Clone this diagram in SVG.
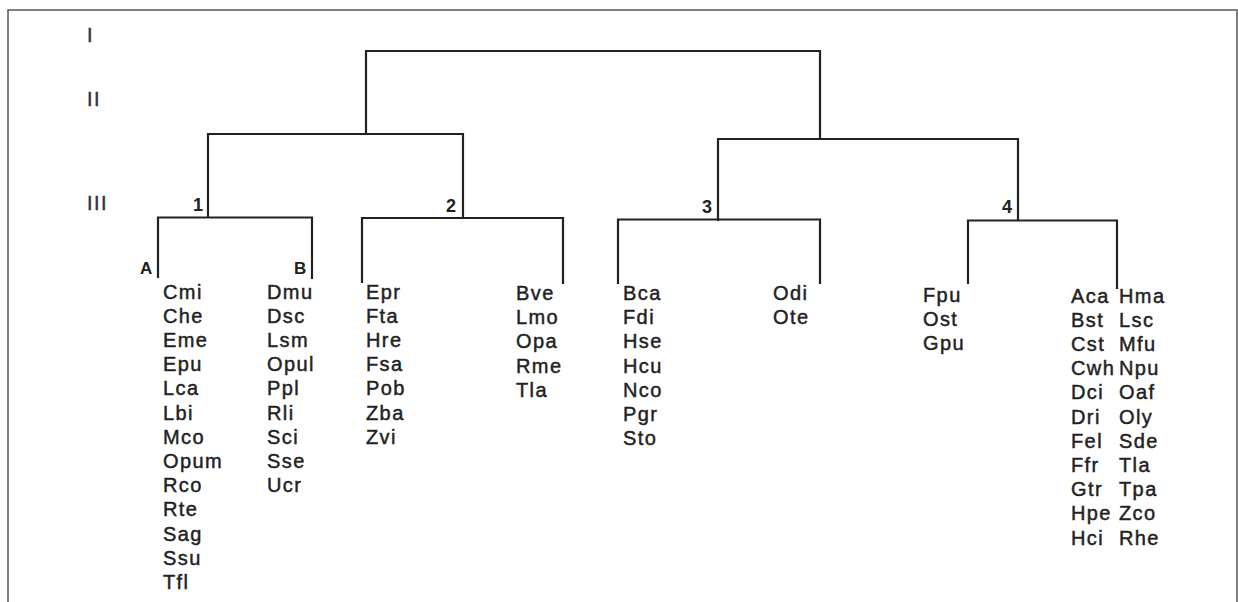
<svg xmlns="http://www.w3.org/2000/svg" width="1238" height="602" viewBox="0 0 1238 602">
<style>
.t{font-family:"Liberation Sans",Arial,Helvetica,sans-serif;font-size:20px;letter-spacing:1.4px;fill:#222;stroke:#222;stroke-width:0.45}
.lvl{font-family:"Liberation Sans",Arial,Helvetica,sans-serif;font-size:20px;letter-spacing:1.5px;fill:#333;stroke:#333;stroke-width:0.4}
.num{font-family:"Liberation Sans",Arial,Helvetica,sans-serif;font-size:18px;font-weight:bold;fill:#222}
.ab{font-family:"Liberation Sans",Arial,Helvetica,sans-serif;font-size:17px;font-weight:bold;fill:#222}
.ln{fill:none;stroke:#222;stroke-width:2.2;stroke-linecap:square;stroke-linejoin:miter}
.frame{fill:none;stroke:#555;stroke-width:1.5}
</style>
<rect width="1238" height="602" fill="#fff"/>
<path class="frame" d="M8,602 V10 H1237 V602"/>
<g id="levels">
<text class="lvl" x="87" y="42">I</text>
<text class="lvl" x="87" y="106">II</text>
<text class="lvl" x="87" y="210">III</text>
</g>
<g id="connectors">
<path class="ln" d="M366,134 V51 H820 V139"/>
<path class="ln" d="M208,217 V134 H463 V218"/>
<path class="ln" d="M718,220 V139 H1018 V220"/>
<path class="ln" d="M158,277 V217.5 H312 V278"/>
<path class="ln" d="M362,282 V218 H563 V283"/>
<path class="ln" d="M618,283 V219.5 H820 V283"/>
<path class="ln" d="M968,283 V220.5 H1117 V288"/>
</g>
<g id="cluster1">
<text class="num" x="193" y="211">1</text>
<g id="group1A">
<text class="ab" x="140" y="274">A</text>
<text class="t"><tspan x="163" y="298.5">Cmi</tspan><tspan x="163" y="322.7">Che</tspan><tspan x="163" y="346.9">Eme</tspan><tspan x="163" y="371.1">Epu</tspan><tspan x="163" y="395.3">Lca</tspan><tspan x="163" y="419.5">Lbi</tspan><tspan x="163" y="443.7">Mco</tspan><tspan x="163" y="467.9">Opum</tspan><tspan x="163" y="492.1">Rco</tspan><tspan x="163" y="516.3">Rte</tspan><tspan x="163" y="540.5">Sag</tspan><tspan x="163" y="564.7">Ssu</tspan><tspan x="163" y="588.9">Tfl</tspan></text>
</g>
<g id="group1B">
<text class="ab" x="294" y="274">B</text>
<text class="t"><tspan x="267" y="298.5">Dmu</tspan><tspan x="267" y="322.7">Dsc</tspan><tspan x="267" y="346.9">Lsm</tspan><tspan x="267" y="371.1">Opul</tspan><tspan x="267" y="395.3">Ppl</tspan><tspan x="267" y="419.5">Rli</tspan><tspan x="267" y="443.7">Sci</tspan><tspan x="267" y="467.9">Sse</tspan><tspan x="267" y="492.1">Ucr</tspan></text>
</g>
</g>
<g id="cluster2">
<text class="num" x="446" y="211.5">2</text>
<g id="group2A">
<text class="t"><tspan x="366" y="298.5">Epr</tspan><tspan x="366" y="322.7">Fta</tspan><tspan x="366" y="346.9">Hre</tspan><tspan x="366" y="371.1">Fsa</tspan><tspan x="366" y="395.3">Pob</tspan><tspan x="366" y="419.5">Zba</tspan><tspan x="366" y="443.7">Zvi</tspan></text>
</g>
<g id="group2B">
<text class="t"><tspan x="516" y="300">Bve</tspan><tspan x="516" y="324.2">Lmo</tspan><tspan x="516" y="348.4">Opa</tspan><tspan x="516" y="372.6">Rme</tspan><tspan x="516" y="396.8">Tla</tspan></text>
</g>
</g>
<g id="cluster3">
<text class="num" x="702" y="212.5">3</text>
<g id="group3A">
<text class="t"><tspan x="623" y="300">Bca</tspan><tspan x="623" y="324.2">Fdi</tspan><tspan x="623" y="348.4">Hse</tspan><tspan x="623" y="372.6">Hcu</tspan><tspan x="623" y="396.8">Nco</tspan><tspan x="623" y="421">Pgr</tspan><tspan x="623" y="445.2">Sto</tspan></text>
</g>
<g id="group3B">
<text class="t"><tspan x="773" y="300">Odi</tspan><tspan x="773" y="324.2">Ote</tspan></text>
</g>
</g>
<g id="cluster4">
<text class="num" x="1002" y="213">4</text>
<g id="group4A">
<text class="t"><tspan x="923" y="301.5">Fpu</tspan><tspan x="923" y="325.7">Ost</tspan><tspan x="923" y="349.9">Gpu</tspan></text>
</g>
<g id="group4B">
<text class="t"><tspan x="1071" y="302.5">Aca</tspan><tspan x="1071" y="326.7">Bst</tspan><tspan x="1071" y="350.9">Cst</tspan><tspan x="1071" y="375.1">Cwh</tspan><tspan x="1071" y="399.3">Dci</tspan><tspan x="1071" y="423.5">Dri</tspan><tspan x="1071" y="447.7">Fel</tspan><tspan x="1071" y="471.9">Ffr</tspan><tspan x="1071" y="496.1">Gtr</tspan><tspan x="1071" y="520.3">Hpe</tspan><tspan x="1071" y="544.5">Hci</tspan></text>
<text class="t"><tspan x="1119" y="302.5">Hma</tspan><tspan x="1119" y="326.7">Lsc</tspan><tspan x="1119" y="350.9">Mfu</tspan><tspan x="1119" y="375.1">Npu</tspan><tspan x="1119" y="399.3">Oaf</tspan><tspan x="1119" y="423.5">Oly</tspan><tspan x="1119" y="447.7">Sde</tspan><tspan x="1119" y="471.9">Tla</tspan><tspan x="1119" y="496.1">Tpa</tspan><tspan x="1119" y="520.3">Zco</tspan><tspan x="1119" y="544.5">Rhe</tspan></text>
</g>
</g>
</svg>
